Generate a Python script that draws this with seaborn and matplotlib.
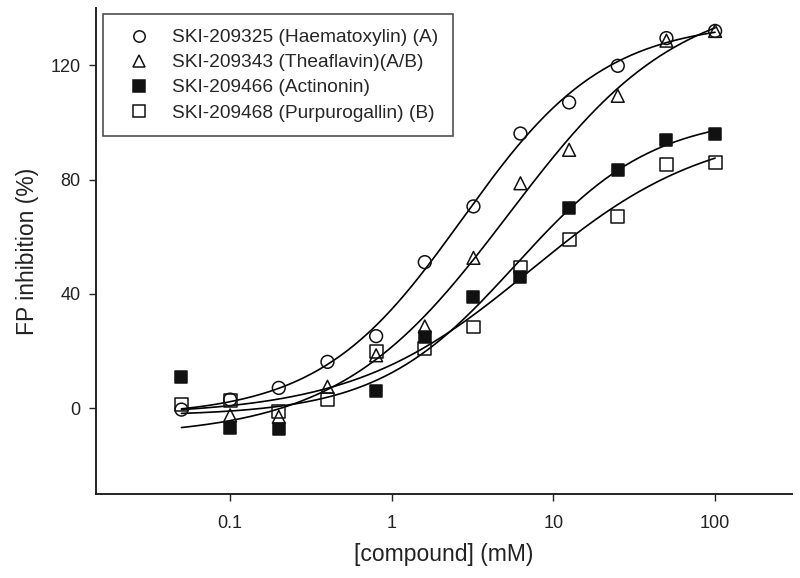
import numpy as np
import pandas as pd
import matplotlib
matplotlib.use("Agg")
import matplotlib.pyplot as plt
import seaborn as sns
from matplotlib.lines import Line2D

# ---- data ----
conc = [0.05, 0.1, 0.2, 0.4, 0.8, 1.6, 3.2, 6.25, 12.5, 25, 50, 100]
haematoxylin = [-0.5, 3.0, 7.1, 16.2, 25.2, 51.1, 70.6, 96.1, 107.0, 119.8, 129.5, 132.0]
theaflavin = [np.nan, -2.5, -3.0, 7.5, 18.5, 28.6, 52.6, 78.7, 90.4, 109.3, 128.6, 132.0]
actinonin = [10.9, -7.1, -7.4, np.nan, 6.1, 24.9, 38.9, 45.9, 70.1, 83.5, 94.0, 96.0]
purpurogallin = [1.2, 2.8, -1.3, 3.0, 19.7, 20.9, 28.4, 49.4, 58.9, 67.1, 85.2, 86.0]

labels = ["SKI-209325 (Haematoxylin) (A)", "SKI-209343 (Theaflavin)(A/B)",
          "SKI-209466 (Actinonin)", "SKI-209468 (Purpurogallin) (B)"]
series = [haematoxylin, theaflavin, actinonin, purpurogallin]
markers = ["o", "^", "s", "s"]
filled = [False, False, True, False]

xticks = [0.1, 1, 10, 100]
xticklabels = ["0.1", "1", "10", "100"]
yticks = [0, 40, 80, 120]


def logistic(p, lx):
    return p[0] + (p[1] - p[0]) / (1.0 + 10.0 ** ((p[2] - lx) * p[3]))


def fit4pl(x, y):
    x = np.asarray(x, float)
    y = np.asarray(y, float)
    m = ~np.isnan(y)
    lx, y = np.log10(x[m]), y[m]
    p = np.array([y.min(), y.max(), np.median(lx), 1.0])
    lam = 1e-2
    for _ in range(500):
        r = y - logistic(p, lx)
        J = np.empty((lx.size, 4))
        for k in range(4):
            dp = np.zeros(4)
            dp[k] = 1e-6 * max(1.0, abs(p[k]))
            J[:, k] = (logistic(p + dp, lx) - logistic(p, lx)) / dp[k]
        A = J.T @ J
        g = J.T @ r
        step = np.linalg.solve(A + lam * np.diag(np.diag(A) + 1e-9), g)
        pn = p + step
        if np.sum((y - logistic(pn, lx)) ** 2) < np.sum(r ** 2):
            p = pn
            lam *= 0.5
        else:
            lam *= 4
    return p


sns.set_theme(style="ticks")
plt.rcParams["font.family"] = ["Liberation Sans", "DejaVu Sans"]

fig = plt.figure(figsize=(8.0, 5.78), dpi=100)
ax = fig.add_axes([0.12, 0.1455, 0.87, 0.8405])

xfit = np.logspace(np.log10(0.05), np.log10(100), 300)
for name, vals, mk, fl in zip(labels, series, markers, filled):
    p = fit4pl(conc, vals)
    curve = pd.DataFrame({"x": xfit, "y": logistic(p, np.log10(xfit))})
    sns.lineplot(data=curve, x="x", y="y", color="black", linewidth=1.2, ax=ax)
    pts = pd.DataFrame({"x": conc, "y": vals}).dropna()
    sns.scatterplot(data=pts, x="x", y="y", marker=mk, s=85,
                    facecolor=("#111111" if fl else "none"),
                    edgecolor="#111111", linewidth=1.1, ax=ax, zorder=3)

ax.set_xscale("log")
ax.set_xlim(0.0148, 299)
ax.set_ylim(-30, 140)
ax.set_xticks(xticks)
ax.set_xticklabels(xticklabels)
ax.minorticks_off()
ax.set_yticks(yticks)
ax.tick_params(axis="both", direction="out", length=5, width=1.0,
               labelsize=13, colors="#222222")
ax.tick_params(axis="x", pad=10)
ax.tick_params(axis="y", pad=6)
for s in ["top", "right"]:
    ax.spines[s].set_visible(False)
for s in ["left", "bottom"]:
    ax.spines[s].set_linewidth(1.4)
    ax.spines[s].set_color("#222222")

ax.set_xlabel("[compound] (mM)", fontsize=16.5, color="#222222", labelpad=8)
ax.set_ylabel("FP inhibition (%)", fontsize=16.5, color="#222222", labelpad=8)

handles = [Line2D([], [], linestyle="none", marker=mk, markersize=8.2,
                  markerfacecolor=("#111111" if fl else "none"),
                  markeredgecolor="#111111", markeredgewidth=1.1)
           for mk, fl in zip(markers, filled)]
leg = ax.legend(handles, labels, loc="upper left", bbox_to_anchor=(0.01, 0.988),
                frameon=True, fancybox=False, fontsize=13.8, handlelength=2.2,
                handletextpad=0.63, labelspacing=0.40, borderpad=0.78,
                borderaxespad=0.0)
leg.get_frame().set_edgecolor("#222222")
leg.get_frame().set_linewidth(1.2)

fig.savefig("out.png", dpi=100)
